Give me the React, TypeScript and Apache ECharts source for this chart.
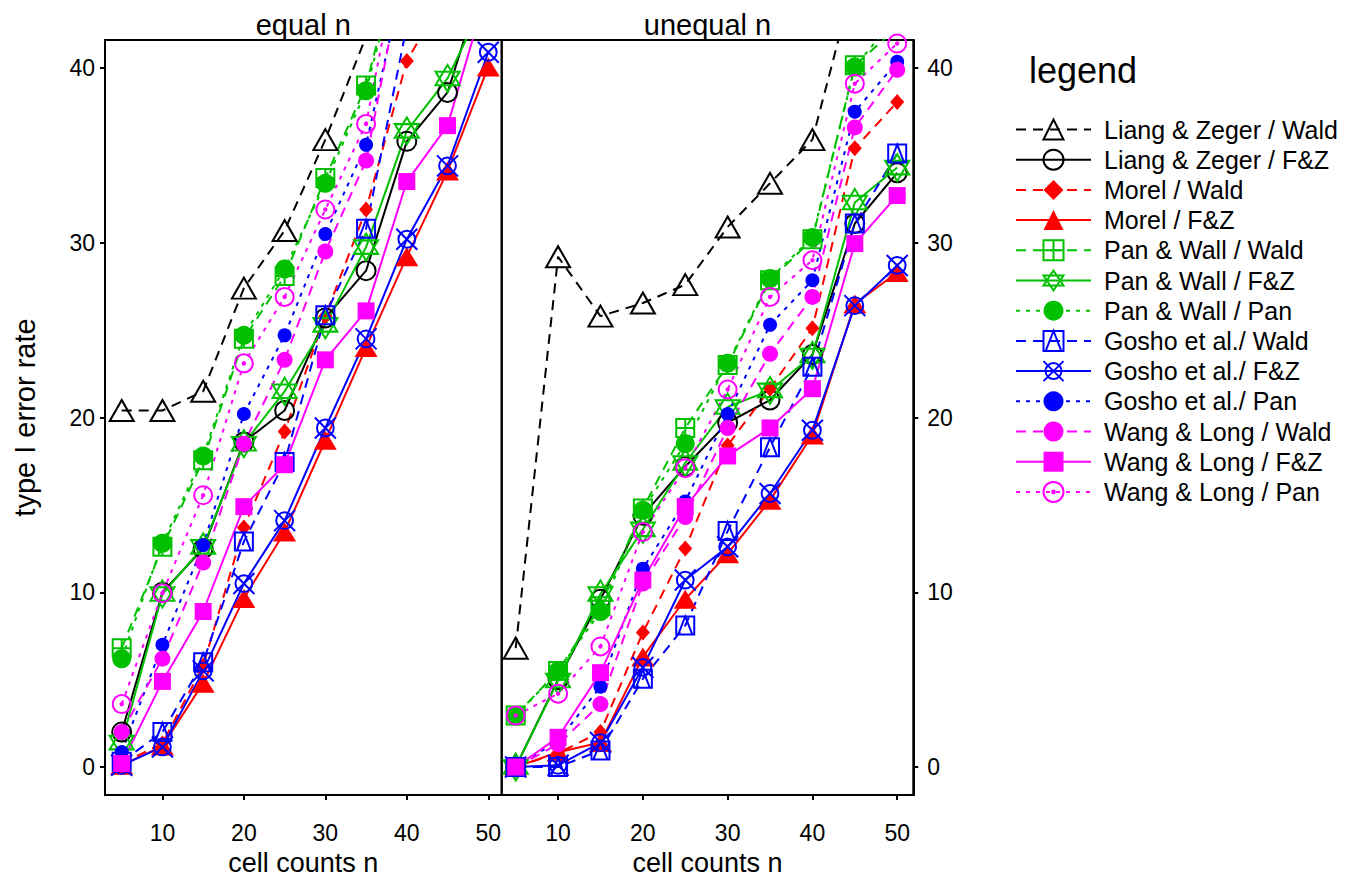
import { useEffect, useRef } from "react";
import * as echarts from "echarts";

// ---------- data ----------
const cellCounts = [5, 10, 15, 20, 25, 30, 35, 40, 45, 50];
const xTickValues = [10, 20, 30, 40, 50];
const yTickValues = [0, 10, 20, 30, 40];
const panelTitles = ["equal n", "unequal n"];
const xAxisTitle = "cell counts n";
const yAxisTitle = "type I error rate";
const methodNames = [
  "Liang & Zeger / Wald",
  "Liang & Zeger / F&Z",
  "Morel / Wald",
  "Morel / F&Z",
  "Pan & Wall / Wald",
  "Pan & Wall / F&Z",
  "Pan & Wall / Pan",
  "Gosho et al./ Wald",
  "Gosho et al./ F&Z",
  "Gosho et al./ Pan",
  "Wang & Long / Wald",
  "Wang & Long / F&Z",
  "Wang & Long / Pan",
];

// equal n panel
const lzWaldEqual = [20.4, 20.4, 21.5, 27.4, 30.7, 35.9, 41.8, 48, 55, 60];
const lzFzEqual = [2.0, 10.0, 12.5, 18.6, 20.4, 25.7, 28.4, 35.8, 38.6, 46];
const morelWaldEqual = [0.2, 1.35, 5.8, 13.7, 19.2, 25.8, 31.9, 40.4, 44.4, 50];
const morelFzEqual = [0.1, 1.2, 4.8, 9.65, 13.45, 18.7, 24.0, 29.2, 34.1, 40.06];
const pwWaldEqual = [6.8, 12.6, 17.55, 24.5, 28.1, 33.7, 39.0, 48, 53, 57];
const pwFzEqual = [1.4, 9.9, 12.6, 18.5, 21.5, 25.3, 29.75, 36.4, 39.4, 44.3];
const pwPanEqual = [6.2, 12.8, 17.8, 24.7, 28.5, 33.4, 38.7, 47.7, 52, 56];
const goshoWaldEqual = [0.3, 2.0, 6.0, 12.9, 17.45, 25.85, 30.8, 42.4, 48, 52];
const goshoFzEqual = [0.1, 1.15, 5.5, 10.5, 14.1, 19.4, 24.5, 30.2, 34.4, 40.9];
const goshoPanEqual = [0.86, 7.0, 12.7, 20.2, 24.7, 30.5, 35.6, 46, 50, 54];
const wlWaldEqual = [2.0, 6.2, 11.7, 18.5, 23.3, 29.5, 34.7, 46.7, 50, 54];
const wlFzEqual = [0.2, 4.9, 8.9, 14.9, 17.3, 23.3, 26.1, 33.5, 36.7, 44.7];
const wlPanEqual = [3.6, 9.95, 15.55, 23.1, 26.9, 31.9, 36.8, 48.7, 52, 56];

// unequal n panel
const lzWaldUnequal = [6.8, 29.2, 25.8, 26.55, 27.6, 30.9, 33.4, 35.9, 45.2, 52];
const lzFzUnequal = [0.0, 5.0, 9.6, 14.4, 17.2, 19.7, 21.0, 23.6, 31.1, 34.0];
const morelWaldUnequal = [0.0, 0.8, 2.0, 7.7, 12.5, 18.4, 21.65, 25.1, 35.4, 38.05];
const morelFzUnequal = [0.0, 0.85, 1.4, 6.3, 9.6, 12.2, 15.26, 19.0, 26.5, 28.3];
const pwWaldUnequal = [2.95, 5.5, 9.2, 14.8, 19.4, 23.0, 27.85, 30.2, 40.15, 42.3];
const pwFzUnequal = [0.0, 4.95, 9.9, 13.6, 17.4, 20.6, 21.55, 23.55, 32.3, 34.3];
const pwPanUnequal = [2.9, 5.5, 8.9, 14.7, 18.5, 23.1, 27.95, 30.3, 40.06, 43];
const goshoWaldUnequal = [0.0, 0.0, 0.95, 5.05, 8.1, 13.5, 18.3, 22.9, 31.1, 35.1];
const goshoFzUnequal = [0.0, 0.1, 1.4, 5.7, 10.7, 12.6, 15.65, 19.27, 26.4, 28.7];
const goshoPanUnequal = [0.0, 1.5, 4.6, 11.35, 15.2, 20.2, 25.3, 27.85, 37.5, 40.35];
const wlWaldUnequal = [0.0, 1.3, 3.6, 10.5, 14.3, 19.4, 23.65, 26.9, 36.6, 39.9];
const wlFzUnequal = [0.0, 1.7, 5.4, 10.7, 14.9, 17.8, 19.4, 21.65, 29.95, 32.7];
const wlPanUnequal = [2.95, 4.2, 6.9, 13.45, 17.1, 21.6, 26.9, 29.0, 39.1, 41.4];

const equalSets = [
  lzWaldEqual, lzFzEqual, morelWaldEqual, morelFzEqual, pwWaldEqual, pwFzEqual, pwPanEqual,
  goshoWaldEqual, goshoFzEqual, goshoPanEqual, wlWaldEqual, wlFzEqual, wlPanEqual,
];
const unequalSets = [
  lzWaldUnequal, lzFzUnequal, morelWaldUnequal, morelFzUnequal, pwWaldUnequal, pwFzUnequal, pwPanUnequal,
  goshoWaldUnequal, goshoFzUnequal, goshoPanUnequal, wlWaldUnequal, wlFzUnequal, wlPanUnequal,
];

// ---------- styles ----------
const FONT = "'Liberation Sans', Arial, Helvetica, sans-serif";
const DASH = [10, 7];
const DOT = [4, 6];
const BLACK = "#000000";
const RED = "#ff0000";
const GREEN = "#00c000";
const BLUE = "#0000ff";
const MAGENTA = "#ff00ff";

const SYM = {
  openTriangle: "path://M0,-10 L11,9 L-11,9 Z",
  openCircle: "path://M-10,0 A10,10 0 1,0 10,0 A10,10 0 1,0 -10,0 Z",
  squarePlus: "path://M-9,-9 L9,-9 L9,9 L-9,9 Z M0,-9 L0,9 M-9,0 L9,0",
  star: "path://M0,-12 L10.4,6 L-10.4,6 Z M0,12 L10.4,-6 L-10.4,-6 Z",
  squareTri: "path://M-9,-9 L9,-9 L9,9 L-9,9 Z M-7,9 L0,-9 L7,9",
  circleX: "path://M-8,0 A8,8 0 1,0 8,0 A8,8 0 1,0 -8,0 Z M-10,-10 L10,10 M10,-10 L-10,10",
  circleDot:
    "path://M-9,0 A9,9 0 1,0 9,0 A9,9 0 1,0 -9,0 Z M-1.2,0 A1.2,1.2 0 1,0 1.2,0 A1.2,1.2 0 1,0 -1.2,0 Z",
};

const styleTable: any[] = [
  { color: BLACK, dash: DASH, symbol: SYM.openTriangle, size: [24, 21], open: true },
  { color: BLACK, dash: "solid", symbol: SYM.openCircle, size: 19, open: true },
  { color: RED, dash: DASH, symbol: "diamond", size: [14, 16], open: false },
  { color: RED, dash: "solid", symbol: "triangle", size: [23, 19], open: false },
  { color: GREEN, dash: DASH, symbol: SYM.squarePlus, size: 18, open: true },
  { color: GREEN, dash: "solid", symbol: SYM.star, size: [24, 27], open: true },
  { color: GREEN, dash: DOT, symbol: "circle", size: 19, open: false },
  { color: BLUE, dash: DASH, symbol: SYM.squareTri, size: 18, open: true },
  { color: BLUE, dash: "solid", symbol: SYM.circleX, size: 21, open: true },
  { color: BLUE, dash: DOT, symbol: "circle", size: 14, open: false },
  { color: MAGENTA, dash: DASH, symbol: "circle", size: 16, open: false },
  { color: MAGENTA, dash: "solid", symbol: "rect", size: 17, open: false },
  { color: MAGENTA, dash: DOT, symbol: SYM.circleDot, size: 18, open: true },
];

function buildSeries(sets: number[][], panel: number) {
  return styleTable.map((st, i) => ({
    type: "line",
    name: methodNames[i],
    xAxisIndex: panel,
    yAxisIndex: panel,
    data: cellCounts.map((x, j) => [x, sets[i][j]]),
    symbol: st.symbol,
    symbolSize: st.size,
    showAllSymbol: true,
    clip: true,
    lineStyle: { color: st.color, width: 2, type: st.dash },
    itemStyle: st.open
      ? { color: "rgba(0,0,0,0)", borderColor: st.color, borderWidth: 2 }
      : { color: st.color, borderWidth: 0 },
    emphasis: { disabled: true },
    silent: true,
  }));
}

const grids = [
  { left: 105, top: 40, width: 396.7, height: 755 },
  { left: 501.7, top: 40, width: 411.6, height: 755 },
];
const xRanges = [
  [2.95, 51.65],
  [3.35, 51.9],
];
const yRange = [-1.6, 41.6];

function textEl(text: string, x: number, y: number, size: number, align: string, vAlign: string) {
  return {
    type: "text",
    x,
    y,
    style: { text, fontSize: size, fontFamily: FONT, fill: "#000", align, verticalAlign: vAlign },
  };
}

export default function App() {
  const ref = useRef<HTMLDivElement>(null);
  useEffect(() => {
    if (!ref.current) return;
    const chart = echarts.init(ref.current, null, { renderer: "svg" });
    const axisLineStyle = { color: "#000", width: 2 };
    const xAxes = grids.map((_, p) => ({
      type: "value",
      gridIndex: p,
      min: xRanges[p][0],
      max: xRanges[p][1],
      axisLine: { show: true, lineStyle: axisLineStyle, onZero: false },
      axisTick: { show: true, length: 5, customValues: xTickValues, lineStyle: axisLineStyle },
      axisLabel: {
        show: true,
        customValues: xTickValues,
        fontSize: 23,
        fontFamily: FONT,
        color: "#000",
        margin: 26,
      },
      splitLine: { show: false },
    }));
    const yAxes = grids.map((_, p) => ({
      type: "value",
      gridIndex: p,
      position: p === 0 ? "left" : "right",
      min: yRange[0],
      max: yRange[1],
      name: p === 0 ? yAxisTitle : "",
      nameLocation: "middle",
      nameGap: 66,
      nameRotate: 90,
      nameTextStyle: { fontSize: 29, fontFamily: FONT, color: "#000" },
      axisLine: { show: true, lineStyle: axisLineStyle, onZero: false },
      axisTick: { show: true, length: 5, customValues: yTickValues, lineStyle: axisLineStyle },
      axisLabel: {
        show: true,
        customValues: yTickValues,
        fontSize: 23,
        fontFamily: FONT,
        color: "#000",
        margin: p === 0 ? 10 : 14,
      },
      splitLine: { show: false },
    }));

    const option: any = {
      animation: false,
      backgroundColor: "#ffffff",
      textStyle: { fontFamily: FONT },
      grid: grids.map((g) => ({
        ...g,
        show: true,
        borderColor: "#000",
        borderWidth: 2,
        backgroundColor: "rgba(0,0,0,0)",
        containLabel: false,
        outerBoundsMode: "none",
      })),
      xAxis: xAxes,
      yAxis: yAxes,
      legend: {
        show: true,
        orient: "vertical",
        left: 1010,
        top: 112,
        itemWidth: 75,
        itemHeight: 25,
        itemGap: 5.2,
        selectedMode: false,
        data: methodNames,
        textStyle: {
          fontSize: 25,
          fontFamily: FONT,
          color: "#000",
          lineHeight: 25,
          padding: [0, 0, 0, 8],
        },
      },
      graphic: [
        textEl(panelTitles[0], 303.3, 39, 29, "center", "bottom"),
        textEl(panelTitles[1], 707.5, 39, 29, "center", "bottom"),
        textEl(xAxisTitle, 303.3, 863, 27, "center", "middle"),
        textEl(xAxisTitle, 707.5, 863, 27, "center", "middle"),
        textEl("legend", 1029, 70, 36, "left", "middle"),
      ],
      series: [...buildSeries(equalSets, 0), ...buildSeries(unequalSets, 1)],
    };
    chart.setOption(option);
    return () => chart.dispose();
  }, []);
  return (
    <div
      ref={ref}
      style={{ position: "absolute", left: 0, top: 0, width: 1356, height: 880, background: "#fff" }}
    />
  );
}
